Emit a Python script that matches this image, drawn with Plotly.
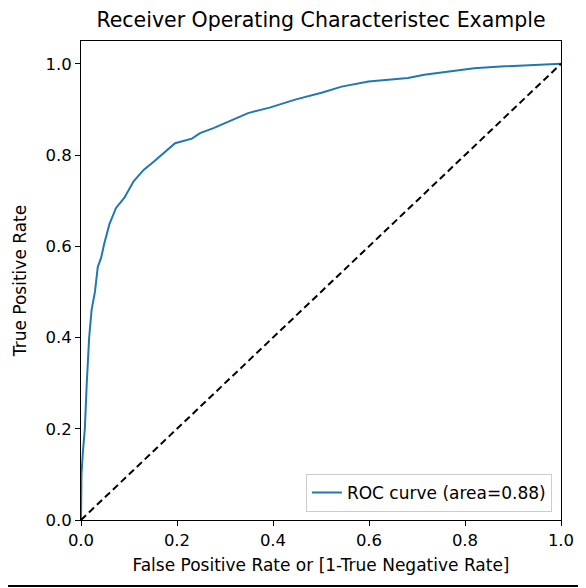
import plotly.graph_objects as go

# ROC curve points
fpr = [0.0, 0.0, 0.001, 0.004, 0.008, 0.012, 0.017, 0.022, 0.029, 0.035, 0.042,
       0.048, 0.059, 0.073, 0.090, 0.110, 0.131, 0.152, 0.172, 0.196, 0.231,
       0.248, 0.276, 0.310, 0.348, 0.393, 0.448, 0.503, 0.543, 0.599, 0.681,
       0.715, 0.750, 0.791, 0.819, 0.874, 0.956, 1.0]
tpr = [0.0, 0.05, 0.10, 0.15, 0.20, 0.30, 0.40, 0.46, 0.50, 0.555, 0.575,
       0.604, 0.648, 0.684, 0.706, 0.743, 0.768, 0.786, 0.805, 0.826, 0.836,
       0.848, 0.859, 0.875, 0.892, 0.904, 0.922, 0.937, 0.950, 0.961, 0.969,
       0.976, 0.981, 0.987, 0.990, 0.994, 0.997, 1.0]
diag = [0.0, 1.0]
auc_label = "ROC curve (area=0.88)"
tick_vals = [0.0, 0.2, 0.4, 0.6, 0.8, 1.0]
tick_text = ["0.0", "0.2", "0.4", "0.6", "0.8", "1.0"]

fig = go.Figure()
fig.add_trace(go.Scatter(x=fpr, y=tpr, mode='lines', name=auc_label,
                         line=dict(color='#1f77b4', width=2)))
fig.add_trace(go.Scatter(x=diag, y=diag, mode='lines', showlegend=False,
                         line=dict(color='black', width=2, dash='7px,4px')))

axis_style = dict(showline=True, linecolor='black', linewidth=1, mirror=True,
                  ticks='outside', ticklen=5, tickcolor='black', tickwidth=1,
                  showgrid=False, zeroline=False,
                  tickvals=tick_vals, ticktext=tick_text,
                  tickfont=dict(size=16.5, color='black'))

# the page body has an 8px margin, so the figure is a bit smaller than the window
fig.update_layout(
    width=578, height=580,
    margin=dict(l=69, r=25, t=33, b=68),
    paper_bgcolor='white', plot_bgcolor='white',
    font=dict(family='DejaVu Sans', color='black'),
    title=dict(text='Receiver Operating Characteristec Example',
               x=0.5, xref='paper', xanchor='center',
               y=0.979, yref='container', yanchor='middle',
               font=dict(size=20.5, color='black')),
    xaxis=dict(range=[0, 1.0], title=dict(text='False Positive Rate or [1-True Negative Rate]',
                                          font=dict(size=17), standoff=10), **axis_style),
    yaxis=dict(range=[0, 1.05], title=dict(text='True Positive Rate',
                                           font=dict(size=17), standoff=14), **axis_style),
    legend=dict(x=0.981, y=0.017, xanchor='right', yanchor='bottom',
                bordercolor='#cccccc', borderwidth=1, bgcolor='white',
                font=dict(size=17)),
    shapes=[dict(type='line', xref='paper', yref='paper',
                 x0=-0.2, x1=1.1, y0=-0.138, y1=-0.138,
                 line=dict(color='black', width=2))],
)

fig.write_html("out.html")
